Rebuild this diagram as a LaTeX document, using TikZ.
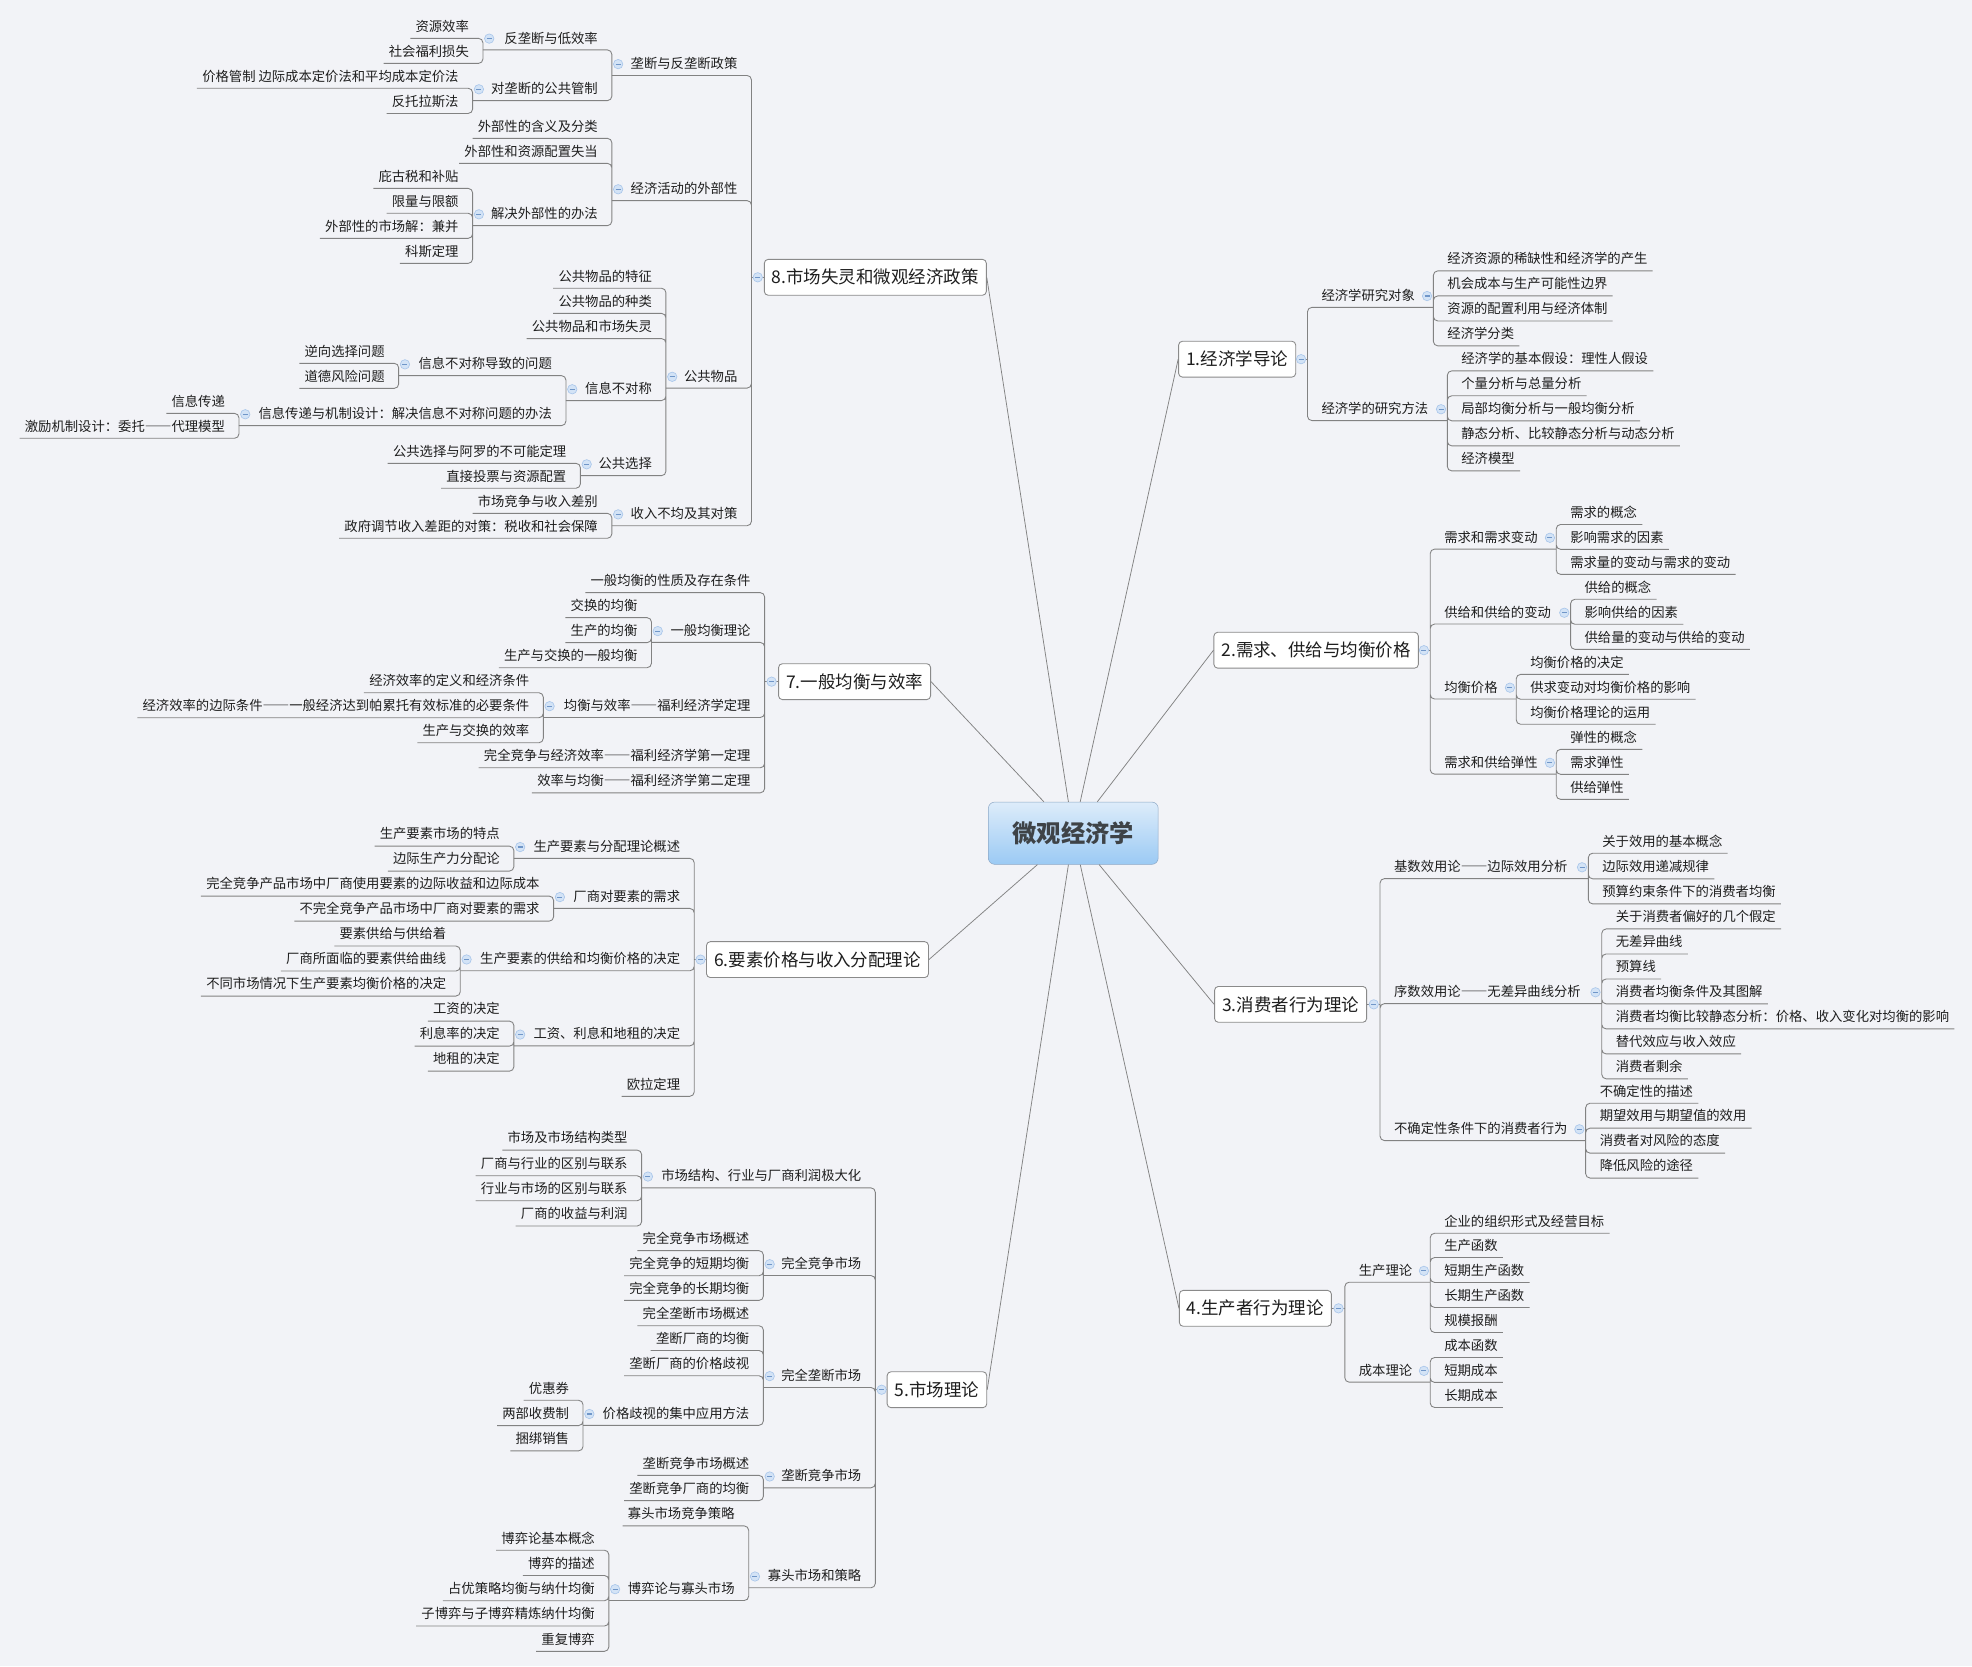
\documentclass[tikz,border=0pt]{standalone}
\usepackage{fontspec}
\setmainfont{Noto Sans CJK SC}
\usepackage{tikz}
\usepackage{xcolor}
\definecolor{bgcol}{HTML}{F2F3F7}
\definecolor{txtcol}{HTML}{1E1E1E}
\definecolor{linecol}{HTML}{828282}
\definecolor{boxline}{HTML}{8A8A8A}
\definecolor{rootline}{HTML}{8DA8C6}
\definecolor{roottop}{HTML}{DDECFA}
\definecolor{rootbot}{HTML}{9BCAF4}
\definecolor{roottext}{HTML}{3E4347}
\definecolor{foldfill}{HTML}{D3E3F6}
\definecolor{foldline}{HTML}{A9C6EA}
\definecolor{foldminus}{HTML}{7096C8}
\newcommand\ldash{{\addfontfeature{RawFeature=+fwid}——}}

\begin{document}
\begin{tikzpicture}[
  x=1pt, y=-1pt,
  lsub/.style={anchor=east, font=\fontsize{10.6}{12}\selectfont, text=txtcol,
  text height=8.5pt, text depth=1.5pt, inner xsep=4pt, inner ysep=4pt},
  rsub/.style={lsub, anchor=west},
  topic/.style={draw=boxline, fill=white, rounded corners=3pt, line width=0.7pt,
  font=\fontsize{13.9}{16}\selectfont, text=txtcol, minimum height=28.5pt, inner xsep=6pt},
  root/.style={draw=rootline, top color=roottop, bottom color=rootbot, rounded corners=5pt,
  font=\fontsize{19.3}{22}\selectfont\bfseries, text=roottext,
  minimum width=135pt, minimum height=49.5pt},
  fold/.style={circle, draw=foldline, fill=foldfill, line width=0.5pt, minimum size=7.5pt,
  inner sep=0pt, node contents={\color{foldminus}\rule{4pt}{0.9pt}}},
  link/.style={draw=linecol, line width=0.7pt, rounded corners=3.5pt},
  spoke/.style={draw=linecol, line width=0.6pt}
]
\fill[bgcol] (0,0) rectangle (1568,1325);

\node[root] (root) at (853.4,662.5) {微观经济学};

\node[topic] (t1) at (983.7,285.6) {1.经济学导论};
\node[topic] (t2) at (1046.5,517) {2.需求、供给与均衡价格};
\node[topic] (t3) at (1026.2,798.6) {3.消费者行为理论};
\node[topic] (t4) at (998.2,1040.3) {4.生产者行为理论};
\node[topic] (t5) at (745,1105) {5.市场理论};
\node[topic] (t6) at (650,763) {6.要素价格与收入分配理论};
\node[topic] (t7) at (679.5,542) {7.一般均衡与效率};
\node[topic] (t8) at (696,220.5) {8.市场失灵和微观经济政策};

\draw[spoke] (root) -- (t1.west);
\draw[spoke] (root) -- (t2.west);
\draw[spoke] (root) -- (t3.west);
\draw[spoke] (root) -- (t4.west);
\draw[spoke] (root) -- (t5.east);
\draw[spoke] (root) -- (t6.east);
\draw[spoke] (root) -- (t7.east);
\draw[spoke] (root) -- (t8.east);

% 1
\coordinate (bt1) at (1039.6,285.6);
\node[rsub] (t1a) at (1046.6,235.4) {经济学研究对象};
\node[rsub] (t1b) at (1046.6,325.4) {经济学的研究方法};
\coordinate (bt1a) at (1139.7,244.4);
\coordinate (bt1b) at (1150.8,334.4);
\node[rsub] (t1a1) at (1146.7,206.2) {经济资源的稀缺性和经济学的产生};
\node[rsub] (t1a2) at (1146.7,226.1) {机会成本与生产可能性边界};
\node[rsub] (t1a3) at (1146.7,246) {资源的配置利用与经济体制};
\node[rsub] (t1a4) at (1146.7,265.8) {经济学分类};
\node[rsub] (t1b1) at (1157.8,285.7) {经济学的基本假设：理性人假设};
\node[rsub] (t1b2) at (1157.8,305.5) {个量分析与总量分析};
\node[rsub] (t1b3) at (1157.8,325.4) {局部均衡分析与一般均衡分析};
\node[rsub] (t1b4) at (1157.8,345.3) {静态分析、比较静态分析与动态分析};
\node[rsub] (t1b5) at (1157.8,365.2) {经济模型};
\draw[link] (t1.east) -- (bt1);
\draw[link] (bt1) |- (bt1a) (bt1) |- (bt1b);
\draw[link] (bt1a) |- (t1a1.south east) (bt1a) |- (t1a2.south east)
  (bt1a) |- (t1a3.south east) (bt1a) |- (t1a4.south east);
\draw[link] (bt1b) |- (t1b1.south east) (bt1b) |- (t1b2.south east)
  (bt1b) |- (t1b3.south east) (bt1b) |- (t1b4.south east) (bt1b) |- (t1b5.south east);
\node at (1034.5,285.6) [fold];
\node at (1134.7,235.4) [fold];
\node at (1145.8,325.4) [fold];

% 2
\coordinate (bt2) at (1137.2,517);
\node[rsub] (t2a) at (1144.2,427.6) {需求和需求变动};
\node[rsub] (t2b) at (1144.2,487.2) {供给和供给的变动};
\node[rsub] (t2c) at (1144.2,546.8) {均衡价格};
\node[rsub] (t2d) at (1144.2,606.5) {需求和供给弹性};
\coordinate (bt2a) at (1237.4,436.6);
\coordinate (bt2b) at (1248.8,496.2);
\coordinate (bt2c) at (1205.6,555.8);
\coordinate (bt2d) at (1237.4,615.5);
\node[rsub] (t2a1) at (1244.4,407.8) {需求的概念};
\node[rsub] (t2a2) at (1244.4,427.6) {影响需求的因素};
\node[rsub] (t2a3) at (1244.4,447.5) {需求量的变动与需求的变动};
\node[rsub] (t2b1) at (1255.8,467.3) {供给的概念};
\node[rsub] (t2b2) at (1255.8,487.2) {影响供给的因素};
\node[rsub] (t2b3) at (1255.8,507.1) {供给量的变动与供给的变动};
\node[rsub] (t2c1) at (1212.6,527) {均衡价格的决定};
\node[rsub] (t2c2) at (1212.6,546.8) {供求变动对均衡价格的影响};
\node[rsub] (t2c3) at (1212.6,566.7) {均衡价格理论的运用};
\node[rsub] (t2d1) at (1244.4,586.6) {弹性的概念};
\node[rsub] (t2d2) at (1244.4,606.5) {需求弹性};
\node[rsub] (t2d3) at (1244.4,626.4) {供给弹性};
\draw[link] (t2.east) -- (bt2);
\draw[link] (bt2) |- (bt2a) (bt2) |- (bt2b) (bt2) |- (bt2c) (bt2) |- (bt2d);
\draw[link] (bt2a) |- (t2a1.south east) (bt2a) |- (t2a2.south east) (bt2a) |- (t2a3.south east);
\draw[link] (bt2b) |- (t2b1.south east) (bt2b) |- (t2b2.south east) (bt2b) |- (t2b3.south east);
\draw[link] (bt2c) |- (t2c1.south east) (bt2c) |- (t2c2.south east) (bt2c) |- (t2c3.south east);
\draw[link] (bt2d) |- (t2d1.south east) (bt2d) |- (t2d2.south east) (bt2d) |- (t2d3.south east);
\node at (1132.2,517) [fold];
\node at (1232.4,427.6) [fold];
\node at (1243.8,487.2) [fold];
\node at (1200.6,546.8) [fold];
\node at (1232.4,606.5) [fold];

% 3
\coordinate (bt3) at (1097.3,798.6);
\node[rsub] (t3a) at (1104.3,689.6) {基数效用论\ldash 边际效用分析};
\node[rsub] (t3b) at (1104.3,789) {序数效用论\ldash 无差异曲线分析};
\node[rsub] (t3c) at (1104.3,897.9) {不确定性条件下的消费者行为};
\coordinate (bt3a) at (1262.9,698.6);
\coordinate (bt3b) at (1273.6,798);
\coordinate (bt3c) at (1260.8,906.9);
\node[rsub] (t3a1) at (1269.9,669.2) {关于效用的基本概念};
\node[rsub] (t3a2) at (1269.9,689.6) {边际效用递减规律};
\node[rsub] (t3a3) at (1269.9,709.5) {预算约束条件下的消费者均衡};
\node[rsub] (t3b1) at (1280.6,729.4) {关于消费者偏好的几个假定};
\node[rsub] (t3b2) at (1280.6,749.3) {无差异曲线};
\node[rsub] (t3b3) at (1280.6,769.2) {预算线};
\node[rsub] (t3b4) at (1280.6,789) {消费者均衡条件及其图解};
\node[rsub] (t3b5) at (1280.6,808.9) {消费者均衡比较静态分析：价格、收入变化对均衡的影响};
\node[rsub] (t3b6) at (1280.6,828.8) {替代效应与收入效应};
\node[rsub] (t3b7) at (1280.6,848.6) {消费者剩余};
\node[rsub] (t3c1) at (1267.8,868) {不确定性的描述};
\node[rsub] (t3c2) at (1267.8,887.8) {期望效用与期望值的效用};
\node[rsub] (t3c3) at (1267.8,907.7) {消费者对风险的态度};
\node[rsub] (t3c4) at (1267.8,927.5) {降低风险的途径};
\draw[link] (t3.east) -- (bt3);
\draw[link] (bt3) |- (bt3a) (bt3) |- (bt3b) (bt3) |- (bt3c);
\draw[link] (bt3a) |- (t3a1.south east) (bt3a) |- (t3a2.south east) (bt3a) |- (t3a3.south east);
\draw[link] (bt3b) |- (t3b1.south east) (bt3b) |- (t3b2.south east) (bt3b) |- (t3b3.south east)
  (bt3b) |- (t3b4.south east) (bt3b) |- (t3b5.south east) (bt3b) |- (t3b6.south east)
  (bt3b) |- (t3b7.south east);
\draw[link] (bt3c) |- (t3c1.south east) (bt3c) |- (t3c2.south east)
  (bt3c) |- (t3c3.south east) (bt3c) |- (t3c4.south east);
\node at (1092.3,798.6) [fold];
\node at (1257.9,689.6) [fold];
\node at (1268.6,789) [fold];
\node at (1255.8,897.9) [fold];

% 4
\coordinate (bt4) at (1069.3,1040.3);
\node[rsub] (t4a) at (1076.3,1010.5) {生产理论};
\node[rsub] (t4b) at (1076.3,1090) {成本理论};
\coordinate (bt4a) at (1137.2,1019.5);
\coordinate (bt4b) at (1137.2,1099);
\node[rsub] (t4a1) at (1144.2,971.4) {企业的组织形式及经营目标};
\node[rsub] (t4a2) at (1144.2,990.7) {生产函数};
\node[rsub] (t4a3) at (1144.2,1010.5) {短期生产函数};
\node[rsub] (t4a4) at (1144.2,1030.4) {长期生产函数};
\node[rsub] (t4a5) at (1144.2,1050.3) {规模报酬};
\node[rsub] (t4b1) at (1144.2,1070.2) {成本函数};
\node[rsub] (t4b2) at (1144.2,1090) {短期成本};
\node[rsub] (t4b3) at (1144.2,1109.9) {长期成本};
\draw[link] (t4.east) -- (bt4);
\draw[link] (bt4) |- (bt4a) (bt4) |- (bt4b);
\draw[link] (bt4a) |- (t4a1.south east) (bt4a) |- (t4a2.south east) (bt4a) |- (t4a3.south east)
  (bt4a) |- (t4a4.south east) (bt4a) |- (t4a5.south east);
\draw[link] (bt4b) |- (t4b1.south east) (bt4b) |- (t4b2.south east) (bt4b) |- (t4b3.south east);
\node at (1064.3,1040.3) [fold];
\node at (1132.2,1010.5) [fold];
\node at (1132.2,1090) [fold];

% 5
\coordinate (bt5) at (696,1105);
\node[lsub] (t5a) at (689,935.5) {市场结构、行业与厂商利润极大化};
\node[lsub] (t5b) at (689,1005.2) {完全竞争市场};
\node[lsub] (t5c) at (689,1094.2) {完全垄断市场};
\node[lsub] (t5d) at (689,1174) {垄断竞争市场};
\node[lsub] (t5e) at (689,1253.5) {寡头市场和策略};
\coordinate (bt5a) at (510.2,944.5);
\coordinate (bt5b) at (607,1014.2);
\coordinate (bt5c) at (607,1103.2);
\coordinate (bt5d) at (607,1183);
\coordinate (bt5e) at (595.3,1262.5);
\node[lsub] (t5a1) at (503.2,905.3) {市场及市场结构类型};
\node[lsub] (t5a2) at (503.2,925.7) {厂商与行业的区别与联系};
\node[lsub] (t5a3) at (503.2,945.5) {行业与市场的区别与联系};
\node[lsub] (t5a4) at (503.2,965.6) {厂商的收益与利润};
\node[lsub] (t5b1) at (600,985.2) {完全竞争市场概述};
\node[lsub] (t5b2) at (600,1005.2) {完全竞争的短期均衡};
\node[lsub] (t5b3) at (600,1024.8) {完全竞争的长期均衡};
\node[lsub] (t5c1) at (600,1044.9) {完全垄断市场概述};
\node[lsub] (t5c2) at (600,1064.6) {垄断厂商的均衡};
\node[lsub] (t5c3) at (600,1084.7) {垄断厂商的价格歧视};
\node[lsub] (t5c4) at (600,1124.3) {价格歧视的集中应用方法};
\coordinate (bt5c4) at (463.6,1133.3);
\node[lsub] (t5c4a) at (456.6,1104.2) {优惠券};
\node[lsub] (t5c4b) at (456.6,1124.3) {两部收费制};
\node[lsub] (t5c4c) at (456.6,1144.4) {捆绑销售};
\node[lsub] (t5d1) at (600,1163.9) {垄断竞争市场概述};
\node[lsub] (t5d2) at (600,1184) {垄断竞争厂商的均衡};
\node[lsub] (t5e1) at (588.3,1204.1) {寡头市场竞争策略};
\node[lsub] (t5e2) at (588.3,1263.6) {博弈论与寡头市场};
\coordinate (bt5e2) at (484.1,1272.6);
\node[lsub] (t5e2a) at (477.1,1223.4) {博弈论基本概念};
\node[lsub] (t5e2b) at (477.1,1243.5) {博弈的描述};
\node[lsub] (t5e2c) at (477.1,1263.6) {占优策略均衡与纳什均衡};
\node[lsub] (t5e2d) at (477.1,1283.7) {子博弈与子博弈精炼纳什均衡};
\node[lsub] (t5e2e) at (477.1,1303.8) {重复博弈};
\draw[link] (t5.west) -- (bt5);
\draw[link] (bt5) |- (bt5a) (bt5) |- (bt5b) (bt5) |- (bt5c) (bt5) |- (bt5d) (bt5) |- (bt5e);
\draw[link] (bt5a) |- (t5a1.south west) (bt5a) |- (t5a2.south west)
  (bt5a) |- (t5a3.south west) (bt5a) |- (t5a4.south west);
\draw[link] (bt5b) |- (t5b1.south west) (bt5b) |- (t5b2.south west) (bt5b) |- (t5b3.south west);
\draw[link] (bt5c) |- (t5c1.south west) (bt5c) |- (t5c2.south west)
  (bt5c) |- (t5c3.south west) (bt5c) |- (bt5c4);
\draw[link] (bt5c4) |- (t5c4a.south west) (bt5c4) |- (t5c4b.south west) (bt5c4) |- (t5c4c.south west);
\draw[link] (bt5d) |- (t5d1.south west) (bt5d) |- (t5d2.south west);
\draw[link] (bt5e) |- (t5e1.south west) (bt5e) |- (bt5e2);
\draw[link] (bt5e2) |- (t5e2a.south west) (bt5e2) |- (t5e2b.south west) (bt5e2) |- (t5e2c.south west)
  (bt5e2) |- (t5e2d.south west) (bt5e2) |- (t5e2e.south west);
\node at (701,1105) [fold];
\node at (515.2,935.5) [fold];
\node at (612,1005.2) [fold];
\node at (612,1094.2) [fold];
\node at (468.6,1124.3) [fold];
\node at (612,1174) [fold];
\node at (600.3,1253.5) [fold];
\node at (489.1,1263.6) [fold];

% 6
\coordinate (bt6) at (552,763);
\node[lsub] (t6a) at (545,673.5) {生产要素与分配理论概述};
\node[lsub] (t6b) at (545,713.3) {厂商对要素的需求};
\node[lsub] (t6c) at (545,762.9) {生产要素的供给和均衡价格的决定};
\node[lsub] (t6d) at (545,822.6) {工资、利息和地租的决定};
\node[lsub] (t6e) at (545,862.5) {欧拉定理};
\coordinate (bt6a) at (408.6,682.5);
\coordinate (bt6b) at (440.2,722.3);
\coordinate (bt6c) at (366,771.9);
\coordinate (bt6d) at (408.6,831.6);
\node[lsub] (t6a1) at (401.6,663.6) {生产要素市场的特点};
\node[lsub] (t6a2) at (401.6,683.4) {边际生产力分配论};
\node[lsub] (t6b1) at (433.2,703.3) {完全竞争产品市场中厂商使用要素的边际收益和边际成本};
\node[lsub] (t6b2) at (433.2,723.2) {不完全竞争产品市场中厂商对要素的需求};
\node[lsub] (t6c1) at (359,743) {要素供给与供给着};
\node[lsub] (t6c2) at (359,762.9) {厂商所面临的要素供给曲线};
\node[lsub] (t6c3) at (359,782.8) {不同市场情况下生产要素均衡价格的决定};
\node[lsub] (t6d1) at (401.6,802.7) {工资的决定};
\node[lsub] (t6d2) at (401.6,822.6) {利息率的决定};
\node[lsub] (t6d3) at (401.6,842.5) {地租的决定};
\draw[link] (t6.west) -- (bt6);
\draw[link] (bt6) |- (bt6a) (bt6) |- (bt6b) (bt6) |- (bt6c) (bt6) |- (bt6d) (bt6) |- (t6e.south west);
\draw[link] (bt6a) |- (t6a1.south west) (bt6a) |- (t6a2.south west);
\draw[link] (bt6b) |- (t6b1.south west) (bt6b) |- (t6b2.south west);
\draw[link] (bt6c) |- (t6c1.south west) (bt6c) |- (t6c2.south west) (bt6c) |- (t6c3.south west);
\draw[link] (bt6d) |- (t6d1.south west) (bt6d) |- (t6d2.south west) (bt6d) |- (t6d3.south west);
\node at (557,763) [fold];
\node at (413.6,673.5) [fold];
\node at (445.2,713.3) [fold];
\node at (371,762.9) [fold];
\node at (413.6,822.6) [fold];

% 7
\coordinate (bt7) at (608,542);
\node[lsub] (t7a) at (601,462) {一般均衡的性质及存在条件};
\node[lsub] (t7b) at (601,501.8) {一般均衡理论};
\node[lsub] (t7c) at (601,561.5) {均衡与效率\ldash 福利经济学定理};
\node[lsub] (t7d) at (601,601.3) {完全竞争与经济效率\ldash 福利经济学第一定理};
\node[lsub] (t7e) at (601,621.2) {效率与均衡\ldash 福利经济学第二定理};
\coordinate (bt7b) at (518,510.8);
\coordinate (bt7c) at (432,570.5);
\node[lsub] (t7b1) at (511,481.9) {交换的均衡};
\node[lsub] (t7b2) at (511,501.8) {生产的均衡};
\node[lsub] (t7b3) at (511,521.7) {生产与交换的一般均衡};
\node[lsub] (t7c1) at (425,541.6) {经济效率的定义和经济条件};
\node[lsub] (t7c2) at (425,561.5) {经济效率的边际条件\ldash 一般经济达到帕累托有效标准的必要条件};
\node[lsub] (t7c3) at (425,581.4) {生产与交换的效率};
\draw[link] (t7.west) -- (bt7);
\draw[link] (bt7) |- (t7a.south west) (bt7) |- (bt7b) (bt7) |- (bt7c)
  (bt7) |- (t7d.south west) (bt7) |- (t7e.south west);
\draw[link] (bt7b) |- (t7b1.south west) (bt7b) |- (t7b2.south west) (bt7b) |- (t7b3.south west);
\draw[link] (bt7c) |- (t7c1.south west) (bt7c) |- (t7c2.south west) (bt7c) |- (t7c3.south west);
\node at (613.5,542) [fold];
\node at (523,501.8) [fold];
\node at (437,561.5) [fold];

% 8
\coordinate (bt8) at (597.5,220.5);
\node[lsub] (t8a) at (590.5,51) {垄断与反垄断政策};
\node[lsub] (t8b) at (590.5,150.5) {经济活动的外部性};
\node[lsub] (t8c) at (590.5,299.6) {公共物品};
\node[lsub] (t8d) at (590.5,409) {收入不均及其对策};
\coordinate (bt8a) at (486.5,60);
\coordinate (bt8b) at (486.5,159.5);
\coordinate (bt8c) at (529.5,308.6);
\coordinate (bt8d) at (486.5,418);
\node[lsub] (t8a1) at (479.5,30.7) {反垄断与低效率};
\node[lsub] (t8a2) at (479.5,71) {对垄断的公共管制};
\coordinate (bt8a1) at (384,39.7);
\coordinate (bt8a2) at (375.8,80);
\node[lsub] (t8a1a) at (377,21.3) {资源效率};
\node[lsub] (t8a1b) at (377,41.2) {社会福利损失};
\node[lsub] (t8a2a) at (368.8,61) {价格管制 边际成本定价法和平均成本定价法};
\node[lsub] (t8a2b) at (368.8,81) {反托拉斯法};
\node[lsub] (t8b1) at (479.5,100.8) {外部性的含义及分类};
\node[lsub] (t8b2) at (479.5,120.7) {外部性和资源配置失当};
\node[lsub] (t8b3) at (479.5,170.4) {解决外部性的办法};
\coordinate (bt8b3) at (375.8,179.4);
\node[lsub] (t8b3a) at (368.8,140.6) {庇古税和补贴};
\node[lsub] (t8b3b) at (368.8,160.4) {限量与限额};
\node[lsub] (t8b3c) at (368.8,180.3) {外部性的市场解：兼并};
\node[lsub] (t8b3d) at (368.8,200.2) {科斯定理};
\node[lsub] (t8c1) at (522.5,220) {公共物品的特征};
\node[lsub] (t8c2) at (522.5,240) {公共物品的种类};
\node[lsub] (t8c3) at (522.5,260) {公共物品和市场失灵};
\node[lsub] (t8c4) at (522.5,309.5) {信息不对称};
\node[lsub] (t8c5) at (522.5,369.2) {公共选择};
\coordinate (bt8c4) at (450,318.5);
\coordinate (bt8c5) at (461.5,378.2);
\node[lsub] (t8c4a) at (443,289.7) {信息不对称导致的问题};
\node[lsub] (t8c4b) at (443,329.4) {信息传递与机制设计：解决信息不对称问题的办法};
\coordinate (bt8c4a) at (317,298.7);
\coordinate (bt8c4b) at (190,338.4);
\node[lsub] (t8c4a1) at (310,279.7) {逆向选择问题};
\node[lsub] (t8c4a2) at (310,299.6) {道德风险问题};
\node[lsub] (t8c4b1) at (183,319.5) {信息传递};
\node[lsub] (t8c4b2) at (183,339.3) {激励机制设计：委托\ldash 代理模型};
\node[lsub] (t8c5a) at (454.5,359.2) {公共选择与阿罗的不可能定理};
\node[lsub] (t8c5b) at (454.5,379) {直接投票与资源配置};
\node[lsub] (t8d1) at (479.5,399) {市场竞争与收入差别};
\node[lsub] (t8d2) at (479.5,418.8) {政府调节收入差距的对策：税收和社会保障};
\draw[link] (t8.west) -- (bt8);
\draw[link] (bt8) |- (bt8a) (bt8) |- (bt8b) (bt8) |- (bt8c) (bt8) |- (bt8d);
\draw[link] (bt8a) |- (bt8a1) (bt8a) |- (bt8a2);
\draw[link] (bt8a1) |- (t8a1a.south west) (bt8a1) |- (t8a1b.south west);
\draw[link] (bt8a2) |- (t8a2a.south west) (bt8a2) |- (t8a2b.south west);
\draw[link] (bt8b) |- (t8b1.south west) (bt8b) |- (t8b2.south west) (bt8b) |- (bt8b3);
\draw[link] (bt8b3) |- (t8b3a.south west) (bt8b3) |- (t8b3b.south west)
  (bt8b3) |- (t8b3c.south west) (bt8b3) |- (t8b3d.south west);
\draw[link] (bt8c) |- (t8c1.south west) (bt8c) |- (t8c2.south west) (bt8c) |- (t8c3.south west)
  (bt8c) |- (bt8c4) (bt8c) |- (bt8c5);
\draw[link] (bt8c4) |- (bt8c4a) (bt8c4) |- (bt8c4b);
\draw[link] (bt8c4a) |- (t8c4a1.south west) (bt8c4a) |- (t8c4a2.south west);
\draw[link] (bt8c4b) |- (t8c4b1.south west) (bt8c4b) |- (t8c4b2.south west);
\draw[link] (bt8c5) |- (t8c5a.south west) (bt8c5) |- (t8c5b.south west);
\draw[link] (bt8d) |- (t8d1.south west) (bt8d) |- (t8d2.south west);
\node at (602.5,220.5) [fold];
\node at (491.5,51) [fold];
\node at (491.5,150.5) [fold];
\node at (534.5,299.6) [fold];
\node at (491.5,409) [fold];
\node at (389,30.7) [fold];
\node at (380.8,71) [fold];
\node at (380.8,170.4) [fold];
\node at (455,309.5) [fold];
\node at (322,289.7) [fold];
\node at (195,329.4) [fold];
\node at (466.5,369.2) [fold];
\end{tikzpicture}
\end{document}
